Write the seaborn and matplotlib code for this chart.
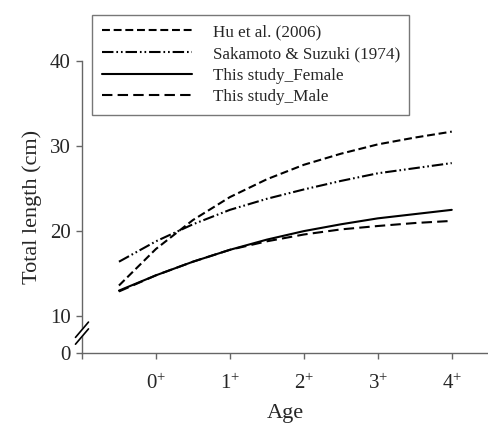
import matplotlib
matplotlib.use("Agg")
import matplotlib.pyplot as plt
import seaborn as sns
import pandas as pd

sns.set_style("ticks")
plt.rcParams['font.family'] = ['Liberation Serif', 'DejaVu Serif']
plt.rcParams['mathtext.fontset'] = 'custom'
plt.rcParams['mathtext.rm'] = 'Liberation Serif'
plt.rcParams['mathtext.it'] = 'Liberation Serif:italic'

# ---- data ----
ages = [-0.5, 0, 0.5, 1, 1.5, 2, 2.5, 3, 3.5, 4]
hu_2006 = [13.6, 17.9, 21.3, 24.0, 26.1, 27.8, 29.1, 30.2, 31.0, 31.7]
sakamoto_1974 = [16.4, 18.8, 20.8, 22.5, 23.8, 24.9, 25.9, 26.8, 27.4, 28.0]
female = [13.0, 14.8, 16.4, 17.8, 19.0, 20.0, 20.8, 21.5, 22.0, 22.5]
male = [12.9, 14.8, 16.4, 17.8, 18.8, 19.6, 20.2, 20.6, 20.95, 21.2]
series_labels = ["Hu et al. (2006)", "Sakamoto & Suzuki (1974)",
                 "This study_Female", "This study_Male"]
xtick_vals = [-1, 0, 1, 2, 3, 4]
xtick_labels = ["", r"0$^{+}$", r"1$^{+}$", r"2$^{+}$", r"3$^{+}$", r"4$^{+}$"]
ytick_vals = [5.66, 10, 20, 30, 40]
ytick_labels = ["0", "10", "20", "30", "40"]

styles = [(0, (3.8, 1.8)),
          (0, (5.5, 1.4, 0.8, 1.4, 0.8, 1.4)),
          '-',
          (0, (5, 2.5))]

fig = plt.figure(figsize=(4.88, 4.30), dpi=100)
ax = fig.add_axes([0.168, 0.179, 0.832, 0.679])

for vals, lab, ls in zip([hu_2006, sakamoto_1974, female, male], series_labels, styles):
    df = pd.DataFrame({"Age": ages, "Length": vals})
    sns.lineplot(data=df, x="Age", y="Length", ax=ax, color="black",
                 linewidth=1.5, linestyle=ls, label=lab)

ax.set_xlim(-1, 4.49)
ax.set_ylim(5.66, 40)
ax.set_xticks(xtick_vals)
ax.set_xticklabels(xtick_labels, fontsize=15)
ax.set_yticks(ytick_vals)
ax.set_yticklabels(ytick_labels, fontsize=15)
ax.tick_params(axis='both', direction='out', length=4, width=1, color='#666666', pad=4)
ax.tick_params(axis='x', pad=11)
for s in ['top', 'right']:
    ax.spines[s].set_visible(False)
for s in ['left', 'bottom']:
    ax.spines[s].set_color('#666666')
    ax.spines[s].set_linewidth(1.0)

ax.set_xlabel("Age", fontsize=16, labelpad=7)
ax.set_ylabel("Total length (cm)", fontsize=16, labelpad=6)

# axis break marks
tr = ax.get_yaxis_transform()
ax.fill([-0.016, 0.016, 0.016, -0.016], [6.7, 8.5, 9.3, 7.5], color='white',
        transform=tr, clip_on=False, zorder=5)
for y0 in [7.6, 8.4]:
    ax.plot([-0.016, 0.016], [y0 - 0.9, y0 + 0.9], color='black', lw=1.2,
            transform=tr, clip_on=False, zorder=6)

leg = ax.legend(loc='upper left', bbox_to_anchor=(0.189, 0.965),
                bbox_transform=fig.transFigure, fontsize=12.3, frameon=True,
                fancybox=False, edgecolor='#555555', handlelength=5.3,
                handletextpad=1.2, labelspacing=0.33, borderpad=0.55,
                borderaxespad=0)
leg.get_frame().set_linewidth(1.0)

fig.savefig("out.png", dpi=100)
